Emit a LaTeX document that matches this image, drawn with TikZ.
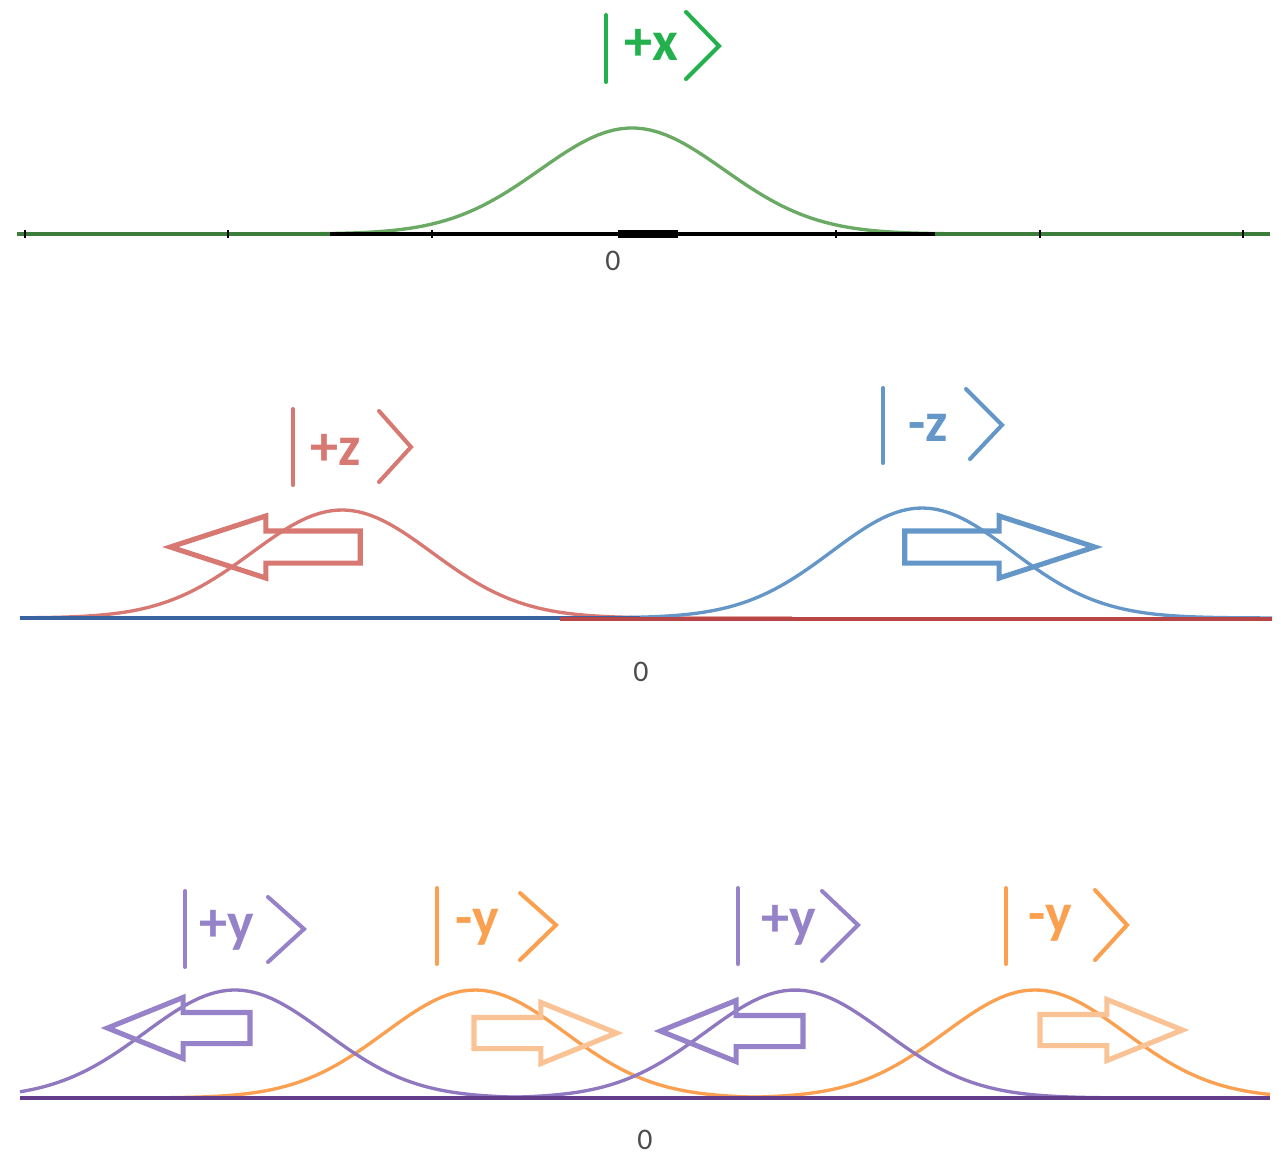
\documentclass[tikz,border=0pt]{standalone}
\usepackage{fontspec}
\setsansfont{Carlito}
\usetikzlibrary{shapes.arrows}
\definecolor{KetGreen}{RGB}{34,177,76}
\definecolor{CurveGreen}{RGB}{106,170,100}
\definecolor{AxisGreen}{RGB}{60,125,60}
\definecolor{SoftRed}{RGB}{215,120,115}
\definecolor{AxisRed}{RGB}{185,70,70}
\definecolor{SoftBlue}{RGB}{100,150,200}
\definecolor{AxisBlue}{RGB}{55,100,160}
\definecolor{SoftPurple}{RGB}{150,130,200}
\definecolor{AxisPurple}{RGB}{100,60,140}
\definecolor{SoftOrange}{RGB}{250,160,80}
\definecolor{PaleOrange}{RGB}{250,195,150}

\begin{document}
\begin{tikzpicture}[
    x=0.02cm, y=-0.02cm,
    font=\sffamily,
    ketlbl/.style={font=\sffamily\bfseries\fontsize{32}{34}\selectfont, inner sep=0pt},
    ketline/.style={line width=2.3pt, line cap=round},
    curve/.style={line width=1.9pt, samples=120},
    axis/.style={line width=2.2pt},
    origin/.style={text=black!70, font=\sffamily\fontsize{17}{19}\selectfont, inner sep=0pt},
    fat/.style={single arrow, draw, line width=2.9pt, inner xsep=0pt,
        single arrow head indent=0pt, line join=miter},
    fatmid/.style={fat, inner ysep=0.27cm, minimum height=3.8cm,
        single arrow head extend=0.3cm, single arrow tip angle=36},
    fatlow/.style={fat, inner ysep=0.26cm, minimum height=2.85cm,
        single arrow head extend=0.3cm, single arrow tip angle=44},
]
\useasboundingbox (0,0) rectangle (1281,1157);

% ================= top: |+x> =================
\draw[curve, CurveGreen, domain=182:1082] plot (\x, {234-106*exp(-((\x-632)/92)^2/2)});
\draw[axis, black] (17,234) -- (1270,234);
\draw[axis, AxisGreen] (17,234) -- (330,234) (935,234) -- (1270,234);
\foreach \t in {25,228,432,836,1040,1243}
    \draw[black, line width=0.8pt] (\t,230) -- (\t,238);
\draw[black, line width=4pt] (618,234) -- (678,234);
\node[origin] (zeroTop) at (613,261) {0};
\node[ketlbl, text=KetGreen] (ketX) at (651,45) {+x};
\draw[ketline, KetGreen] (606,15) -- (606,82);
\draw[ketline, KetGreen] (686,12) -- (719,46) -- (686,79);

% ================= middle: |+z>, |-z> =================
\draw[curve, SoftRed, domain=20:792] plot (\x, {618-108*exp(-((\x-342)/90)^2/2)});
\draw[curve, SoftBlue, domain=472:1272] plot (\x, {618-110*exp(-((\x-922)/90)^2/2)});
\draw[axis, AxisBlue] (20,618) -- (640,618);
\draw[axis, AxisRed] (560,619) -- (1272,619);
\node[origin] (zeroMid) at (641,672) {0};
\node[ketlbl, text=SoftRed] (ketPz) at (336,450) {+z};
\draw[ketline, SoftRed] (293,409) -- (293,485);
\draw[ketline, SoftRed] (379,411) -- (411,447) -- (379,482);
\node[ketlbl, text=SoftBlue] (ketMz) at (928,428) {-z};
\draw[ketline, SoftBlue] (883,388) -- (883,463);
\draw[ketline, SoftBlue] (966,389) -- (1002,425) -- (970,459);
\node[fatmid, draw=SoftRed, shape border rotate=180] (moveZp) at (290,547) {};
\node[fatmid, draw=SoftBlue] (moveZm) at (975,547) {};

% ================= bottom: |+y>, |-y> =================
\draw[curve, SoftOrange, domain=20:925] plot (\x, {1098-108*exp(-((\x-475)/90)^2/2)});
\draw[curve, SoftOrange, domain=585:1270] plot (\x, {1098-108*exp(-((\x-1035)/90)^2/2)});
\draw[curve, SoftPurple!85!AxisPurple, domain=20:685] plot (\x, {1098-108*exp(-((\x-235)/90)^2/2)});
\draw[curve, SoftPurple!85!AxisPurple, domain=345:1245] plot (\x, {1098-108*exp(-((\x-795)/90)^2/2)});
\draw[axis, AxisPurple] (20,1098) -- (1270,1098);
\node[origin] (zeroLow) at (645,1140) {0};
% kets
\node[ketlbl, text=SoftPurple] (ketPyA) at (227,930) {+y};
\draw[ketline, SoftPurple] (185,891) -- (185,967);
\draw[ketline, SoftPurple] (268,897) -- (304,929) -- (268,962);
\node[ketlbl, text=SoftOrange] (ketMyA) at (477,927) {-y};
\draw[ketline, SoftOrange] (437,888) -- (437,964);
\draw[ketline, SoftOrange] (520,893) -- (556,925) -- (520,960);
\node[ketlbl, text=SoftPurple] (ketPyB) at (789,925) {+y};
\draw[ketline, SoftPurple] (738,888) -- (738,964);
\draw[ketline, SoftPurple] (822,891) -- (858,925) -- (822,961);
\node[ketlbl, text=SoftOrange] (ketMyB) at (1050,923) {-y};
\draw[ketline, SoftOrange] (1006,888) -- (1006,964);
\draw[ketline, SoftOrange] (1095,890) -- (1127,925) -- (1095,960);
% arrows
\node[fatlow, draw=SoftPurple, shape border rotate=180] (movePyA) at (198,1028) {};
\node[fatlow, draw=PaleOrange] (moveMyA) at (526,1033) {};
\node[fatlow, draw=SoftPurple, shape border rotate=180] (movePyB) at (751,1031) {};
\node[fatlow, draw=PaleOrange] (moveMyB) at (1092,1030) {};

\end{tikzpicture}
\end{document}
